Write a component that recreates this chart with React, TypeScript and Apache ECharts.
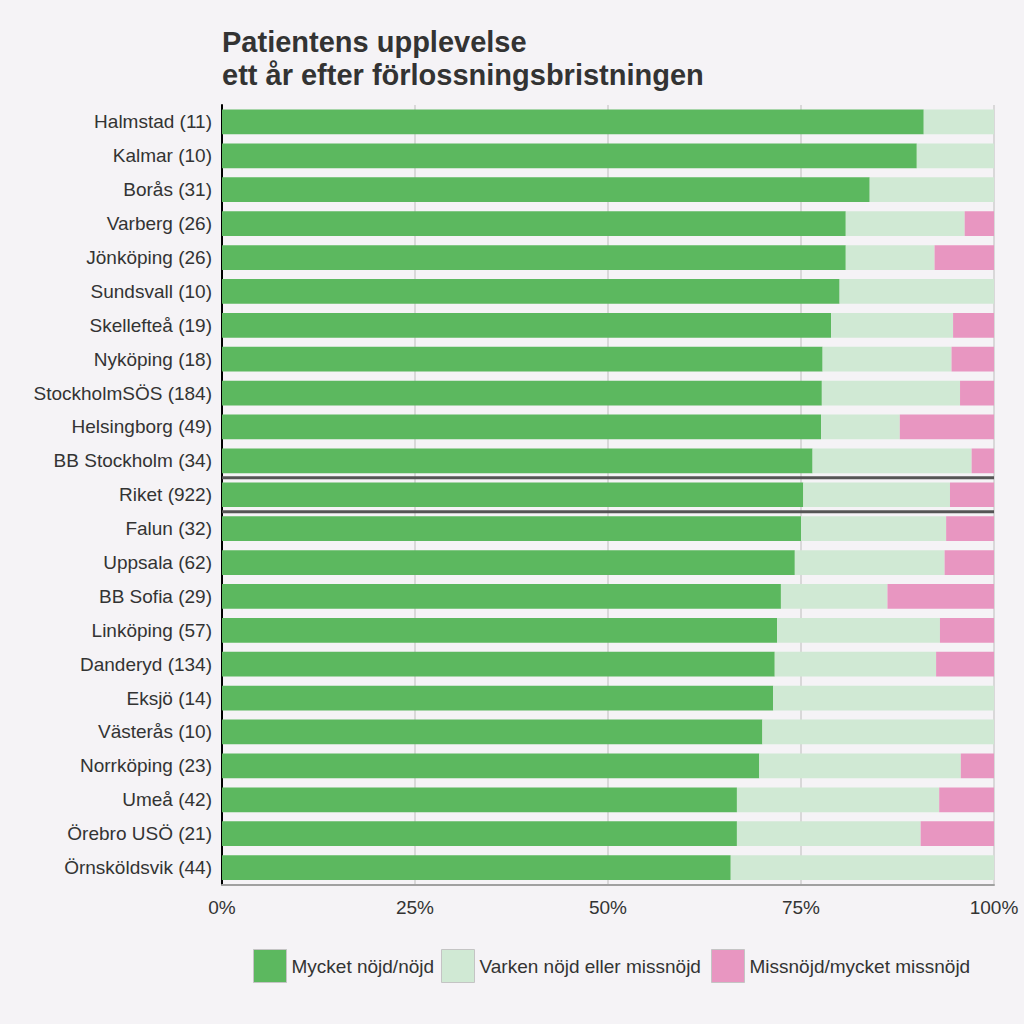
import React, { useEffect, useRef } from "react";
import * as echarts from "echarts";

const categories = [
  "Halmstad (11)", "Kalmar (10)", "Borås (31)", "Varberg (26)", "Jönköping (26)",
  "Sundsvall (10)", "Skellefteå (19)", "Nyköping (18)", "StockholmSÖS (184)",
  "Helsingborg (49)", "BB Stockholm (34)", "Riket (922)", "Falun (32)", "Uppsala (62)",
  "BB Sofia (29)", "Linköping (57)", "Danderyd (134)", "Eksjö (14)", "Västerås (10)",
  "Norrköping (23)", "Umeå (42)", "Örebro USÖ (21)", "Örnsköldsvik (44)",
];
const satisfied = [90.9, 90.0, 83.9, 80.8, 80.8, 80.0, 78.9, 77.8, 77.7, 77.6, 76.5, 75.3, 75.0, 74.2, 72.4, 71.9, 71.6, 71.4, 70.0, 69.6, 66.7, 66.7, 65.9];
const neutral = [9.1, 10.0, 16.1, 15.4, 11.5, 20.0, 15.8, 16.7, 17.9, 10.2, 20.6, 19.0, 18.8, 19.4, 13.8, 21.1, 20.9, 28.6, 30.0, 26.1, 26.2, 23.8, 34.1];
const dissatisfied = [0, 0, 0, 3.8, 7.7, 0, 5.3, 5.6, 4.4, 12.2, 2.9, 5.7, 6.2, 6.4, 13.8, 7.0, 7.5, 0, 0, 4.3, 7.1, 9.5, 0];
const seriesNames = ["Mycket nöjd/nöjd", "Varken nöjd eller missnöjd", "Missnöjd/mycket missnöjd"];
const xTicks = [0, 25, 50, 75, 100];
const highlightCategory = "Riket (922)";

const FONT = "'Liberation Sans', Arial, sans-serif";
const TXT = "#333333";

export default function App() {
  const ref = useRef<HTMLDivElement>(null);
  useEffect(() => {
    document.body.style.margin = "0";
    const chart = echarts.init(ref.current!, undefined, { renderer: "svg" });
    const colors = ["#5cb85f", "#d0e9d4", "#e896c1"];
    const values = [satisfied, neutral, dissatisfied];
    const legendLefts = [248, 436, 706];
    chart.setOption({
      animation: false,
      backgroundColor: "#f5f3f6",
      textStyle: { fontFamily: FONT },
      title: {
        text: "Patientens upplevelse\nett år efter förlossningsbristningen",
        left: 217,
        top: 20,
        textStyle: { fontFamily: FONT, fontSize: 29, fontWeight: "bold", color: TXT, lineHeight: 33 },
      },
      legend: seriesNames.map((name, i) => ({
        left: legendLefts[i],
        top: 944,
        itemWidth: 33,
        itemHeight: 33,
        icon: "rect",
        itemStyle: { borderColor: "#c4c4c4", borderWidth: 1 },
        textStyle: { fontFamily: FONT, fontSize: 19, color: TXT },
        data: [name],
      })),
      grid: { left: 222, right: 30, top: 105, bottom: 139.5 },
      xAxis: {
        type: "value",
        min: xTicks[0],
        max: xTicks[xTicks.length - 1],
        interval: 25,
        axisLine: { show: true, lineStyle: { color: "#a0a0a0", width: 2 } },
        axisTick: { show: false },
        splitLine: { show: true, lineStyle: { color: "#cfcfcf", width: 1.5 } },
        axisLabel: { formatter: "{value}%", fontSize: 19, color: TXT, margin: 13, fontFamily: FONT },
      },
      yAxis: {
        type: "category",
        inverse: true,
        data: categories,
        axisLine: { show: true, lineStyle: { color: "#000000", width: 2 } },
        axisTick: { show: false },
        axisLabel: { fontSize: 19, color: TXT, margin: 10, fontFamily: FONT },
      },
      series: seriesNames.map((name, i) => ({
        name,
        type: "bar",
        stack: "total",
        barCategoryGap: "27%",
        data: values[i],
        itemStyle: { color: colors[i] },
        emphasis: { disabled: true },
      })),
    });
    const idx = categories.indexOf(highlightCategory);
    const yPrev = chart.convertToPixel({ yAxisIndex: 0 }, categories[idx - 1]) as number;
    const yCur = chart.convertToPixel({ yAxisIndex: 0 }, categories[idx]) as number;
    const yNext = chart.convertToPixel({ yAxisIndex: 0 }, categories[idx + 1]) as number;
    const x0 = chart.convertToPixel({ xAxisIndex: 0 }, 0) as number;
    const x1 = chart.convertToPixel({ xAxisIndex: 0 }, 100) as number;
    const yA = (yPrev + yCur) / 2;
    const yB = (yCur + yNext) / 2;
    chart.setOption({
      graphic: [
        { type: "line", z: 10, shape: { x1: x0, y1: yA, x2: x1, y2: yA }, style: { stroke: "#555555", lineWidth: 3 } },
        { type: "line", z: 10, shape: { x1: x0, y1: yB, x2: x1, y2: yB }, style: { stroke: "#555555", lineWidth: 3 } },
      ],
    });
    return () => chart.dispose();
  }, []);
  return <div ref={ref} style={{ width: 1024, height: 1024 }} />;
}
